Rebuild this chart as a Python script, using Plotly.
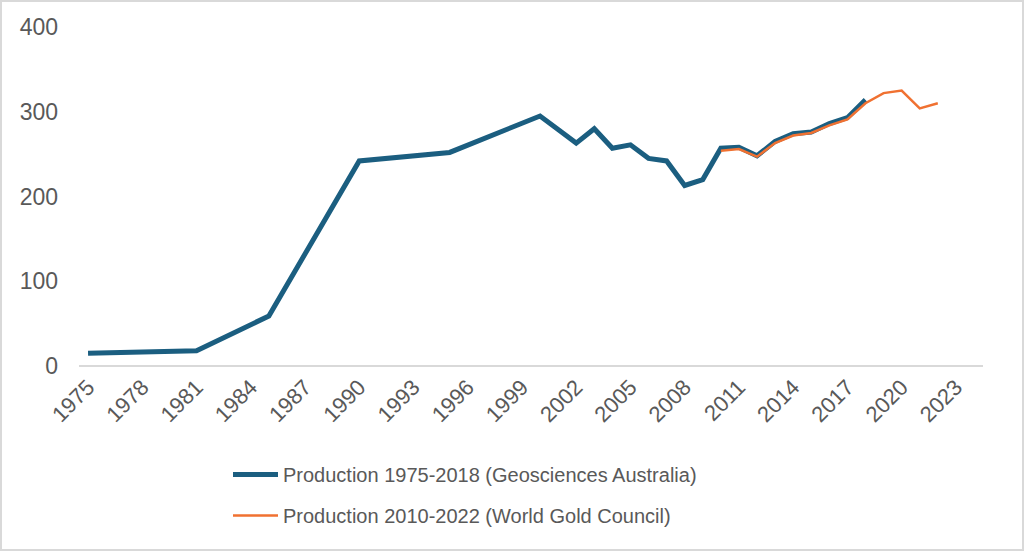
import plotly.graph_objects as go

# Geosciences Australia series (sparse before 2000; gaps connected)
ga_years = [1975, 1981, 1985, 1990, 1995, 2000, 2001, 2002, 2003, 2004, 2005, 2006,
            2007, 2008, 2009, 2010, 2011, 2012, 2013, 2014, 2015, 2016, 2017, 2018]
ga_values = [15, 18, 59, 242, 252, 295, 279, 263, 280, 257, 261, 245,
             242, 213, 220, 257, 258, 248, 265, 274, 276, 286, 293, 314]

wgc_years = [2010, 2011, 2012, 2013, 2014, 2015, 2016, 2017, 2018, 2019, 2020, 2021, 2022]
wgc_values = [254, 256, 247, 263, 272, 275, 284, 291, 310, 322, 325, 304, 310]

tick_years = list(range(1975, 2024, 3))
y_ticks = [0, 100, 200, 300, 400]

FONT = "Liberation Sans, Arial, sans-serif"
TXT = "#595959"

fig = go.Figure()
fig.add_trace(go.Scatter(
    x=ga_years, y=ga_values, mode="lines",
    name="Production 1975-2018 (Geosciences Australia)", legendgroup="a",
    line=dict(color="#1b5e80", width=5), connectgaps=True))
fig.add_trace(go.Scatter(
    x=wgc_years, y=wgc_values, mode="lines",
    name="Production 2010-2022 (World Gold Council)", legendgroup="b",
    line=dict(color="#f07131", width=2.5)))

W, H = 1024, 551
ml, mr, mt, mb = 79, 41, 27, 185
pw = W - ml - mr
ph = H - mt - mb

fig.update_layout(
    width=W, height=H,
    margin=dict(l=ml, r=mr, t=mt, b=mb),
    paper_bgcolor="white", plot_bgcolor="white",
    font=dict(family=FONT, color=TXT, size=20),
    showlegend=True,
    legend=dict(orientation="v", x=(228 - ml) / pw, xanchor="left",
                y=-(455 - (mt + ph)) / ph, yanchor="top",
                font=dict(size=20, color=TXT), tracegroupgap=12,
                itemwidth=45, bgcolor="rgba(0,0,0,0)"),
    xaxis=dict(range=[1974.5, 2024.5], tickmode="array", tickvals=tick_years,
               ticktext=[str(t) for t in tick_years], tickangle=-45,
               showgrid=False, zeroline=False, showline=False,
               tickfont=dict(size=22, color=TXT), ticks="", ticklabelstandoff=3),
    yaxis=dict(range=[0, 400], tickmode="array", tickvals=y_ticks,
               showgrid=False, zeroline=True, zerolinecolor="#d9d9d9", zerolinewidth=1.5,
               showline=False, tickfont=dict(size=23, color=TXT), ticks="",
               ticklabelstandoff=20),
    shapes=[dict(type="rect", xref="paper", yref="paper",
                 x0=-(ml - 1) / pw, x1=(W - ml - 1) / pw,
                 y0=-(mb - 1) / ph, y1=(ph + mt - 1) / ph,
                 line=dict(color="#d9d9d9", width=2), layer="below")],
)

fig.write_html("out.html", config={"displayModeBar": False},
               post_script="document.body.style.margin='0';document.body.style.overflow='hidden';")
